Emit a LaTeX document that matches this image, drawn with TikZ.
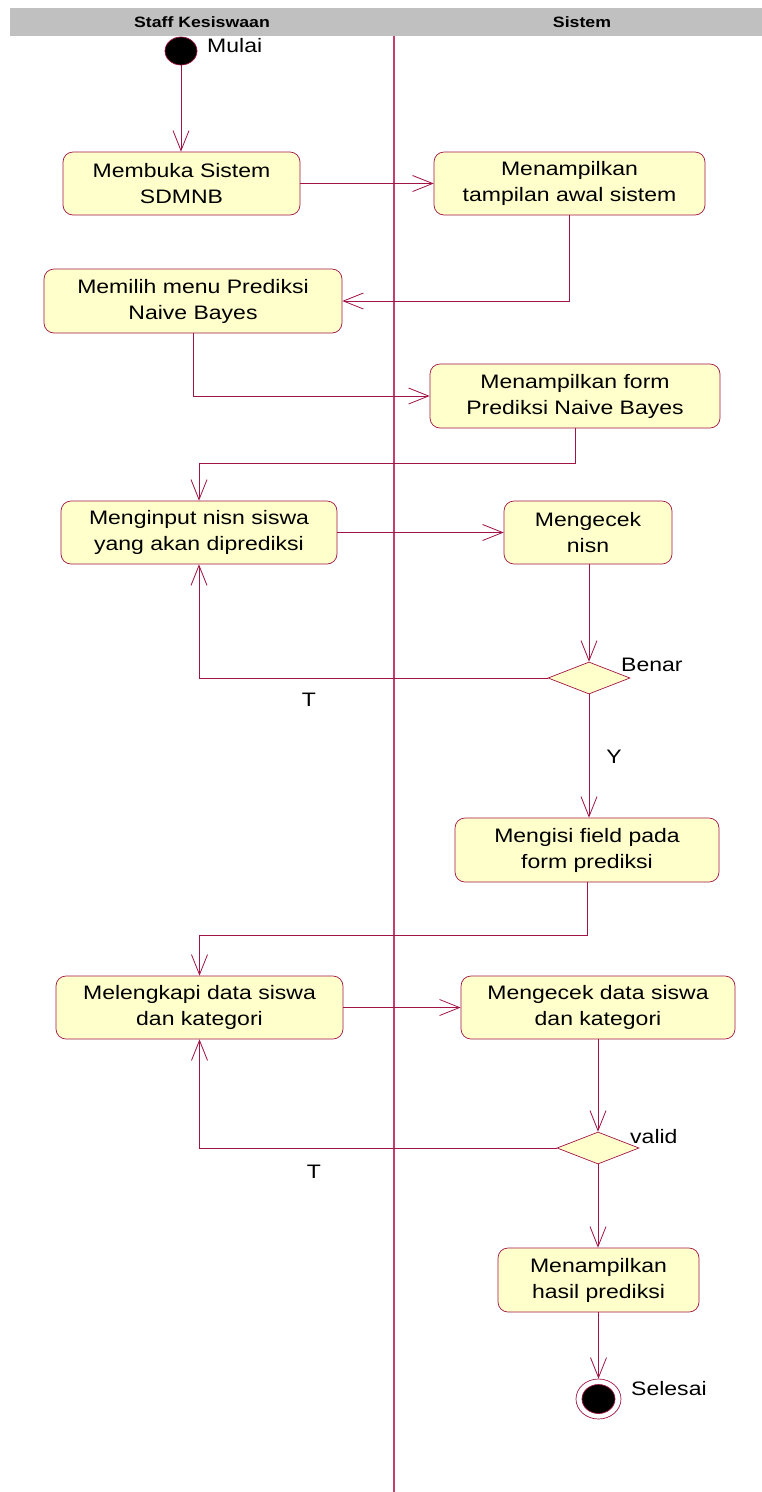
\documentclass[tikz,border=0pt]{standalone}
\usepackage{fontspec}
\setmainfont{Liberation Sans}[FakeStretch=1.18]
\usetikzlibrary{arrows.meta,shapes.geometric}
\definecolor{umlline}{RGB}{160,20,70}
\definecolor{umlfill}{RGB}{255,255,204}
\definecolor{lanegray}{RGB}{192,192,192}
\definecolor{laneline}{RGB}{200,60,110}
\begin{document}
\begin{tikzpicture}[x=1pt,y=-1pt,
  actbox/.style={draw=umlline,fill=umlfill,rounded corners=10pt,line width=0.7pt,
    align=center,inner sep=0pt,font=\fontsize{19.5}{26}\selectfont},
  decision/.style={draw=umlline,fill=umlfill,diamond,line width=0.7pt,
    minimum width=82pt,minimum height=32pt,inner sep=0pt,aspect=2.5},
  flow/.style={draw=umlline,line width=0.8pt,-{Straight Barb[length=20pt,width=16pt]}},
  lbl/.style={font=\fontsize{19.5}{24}\selectfont,inner sep=0pt},
  lanehead/.style={font=\bfseries\fontsize{15}{18}\selectfont,inner sep=0pt}]
\useasboundingbox (0,0) rectangle (762,1492);
% swimlane header and divider
\fill[lanegray] (10,8) rectangle (762,36);
\node[lanehead] (h1) at (202,22) {Staff Kesiswaan};
\node[lanehead] (h2) at (582,22) {Sistem};
\draw[laneline,line width=1.6pt] (394,36) -- (394,1492);

% start and end
\node[draw=umlline,fill=black,ellipse,minimum width=32pt,minimum height=28pt,inner sep=0pt,line width=0.7pt] (s1) at (181,51) {};
\node[lbl,anchor=west] (ls) at (207,46) {Mulai};

% activities
\node[actbox,minimum width=237pt,minimum height=63pt] (a1) at (181.5,183.5) {Membuka Sistem\\SDMNB};
\node[actbox,minimum width=271pt,minimum height=63pt] (b1) at (569.5,183.5) {Menampilkan\\tampilan awal sistem};
\node[actbox,minimum width=298pt,minimum height=64pt] (a2) at (193,301) {Memilih menu Prediksi\\Naive Bayes};
\node[actbox,minimum width=290pt,minimum height=64pt] (b2) at (575,396) {Menampilkan form\\Prediksi Naive Bayes};
\node[actbox,minimum width=276pt,minimum height=63pt] (a3) at (199,532.5) {Menginput nisn siswa\\yang akan diprediksi};
\node[actbox,minimum width=168pt,minimum height=63pt] (b3) at (588,532.5) {Mengecek\\nisn};
\node[decision] (d1) at (589,678) {};
\node[lbl,anchor=west] (lb) at (621,665) {Benar};
\node[actbox,minimum width=264pt,minimum height=64pt] (b4) at (587,850) {Mengisi field pada\\form prediksi};
\node[actbox,minimum width=287pt,minimum height=63pt] (a4) at (199.5,1007.5) {Melengkapi data siswa\\dan kategori};
\node[actbox,minimum width=274pt,minimum height=63pt] (b5) at (598,1007.5) {Mengecek data siswa\\dan kategori};
\node[decision] (d2) at (598,1148) {};
\node[lbl,anchor=west] (lv) at (630,1137) {valid};
\node[actbox,minimum width=201pt,minimum height=64pt] (b6) at (598.5,1280) {Menampilkan\\hasil prediksi};

\node[draw=umlline,ellipse,minimum width=45pt,minimum height=40pt,inner sep=0pt,line width=0.7pt] (e) at (598.5,1399) {};
\node[draw=umlline,fill=black,ellipse,minimum width=33pt,minimum height=29pt,inner sep=0pt,line width=0.7pt] (ei) at (598.5,1399) {};
\node[lbl,anchor=west] (le) at (631,1389) {Selesai};

% guard labels
\node[lbl] (t1) at (309,700) {T};
\node[lbl] (y1) at (614,757) {Y};
\node[lbl] (t2) at (314,1172) {T};

% control flow
\draw[flow] (s1.south) -- (a1.north -| s1.south);
\draw[flow] (a1.east) -- (b1.west);
\draw[flow] (b1.south) |- (a2.east);
\draw[flow] (a2.south) |- (b2.west);
\draw[flow] (b2.south) -- ++(0,35) -| (a3.north);
\draw[flow] (a3.east) -- (b3.west);
\draw[flow] (b3.south -| d1.north) -- (d1.north);
\draw[flow] (d1.west) -| (a3.south);
\draw[flow] (d1.south) -- (d1.south |- b4.north);
\draw[flow] (b4.south) -- ++(0,53) -| (a4.north);
\draw[flow] (a4.east) -- (b5.west);
\draw[flow] (b5.south) -- (d2.north);
\draw[flow] (d2.west) -| (a4.south);
\draw[flow] (d2.south) -- (d2.south |- b6.north);
\draw[flow] (b6.south) -- (e.north);
\end{tikzpicture}
\end{document}
